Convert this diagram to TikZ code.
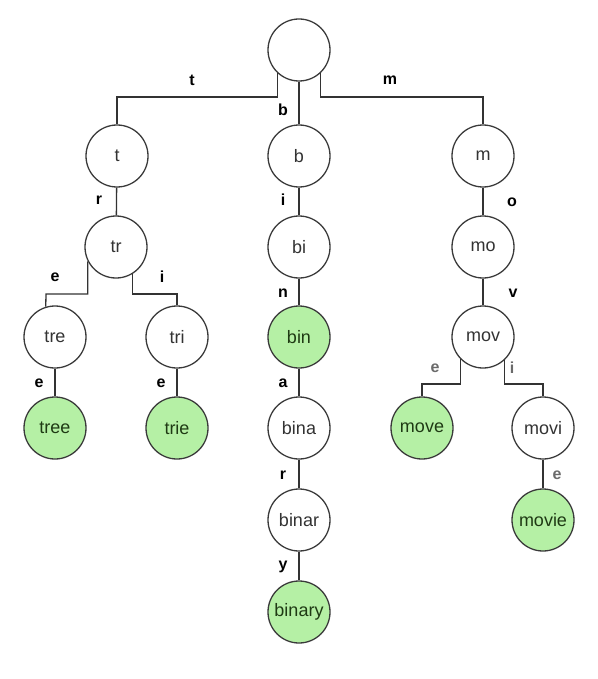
\documentclass[tikz,border=0pt]{standalone}
\usepackage{fontspec}
\setmainfont{Liberation Sans}
\definecolor{nodeline}{HTML}{3A3A3A}
\definecolor{edgeline}{HTML}{333333}
\definecolor{nodetext}{HTML}{333333}
\definecolor{wordfill}{HTML}{B5F0A5}
\definecolor{wordtext}{HTML}{1F3A14}
\definecolor{labgray}{HTML}{6A6A6A}
\begin{document}
\begin{tikzpicture}[x=1pt,y=-1pt,
  trienode/.style={circle,draw=nodeline,line width=1.3pt,minimum size=62pt,
    inner sep=0pt,fill=white,text=nodetext,font=\fontsize{18}{20}\selectfont},
  wordnode/.style={trienode,fill=wordfill,text=wordtext},
  edge/.style={draw=edgeline,line width=1.3pt},
  lab/.style={font=\bfseries\fontsize{16}{18}\selectfont,text=black,inner sep=0pt},
  lablight/.style={lab,text=labgray}]
\useasboundingbox (0,0) rectangle (597,679);

% levels where branching edges turn
\coordinate (lvlA) at (0,97);
\coordinate (lvlB) at (0,294);
\coordinate (lvlC) at (0,384);

% trie nodes
\node[trienode] (root)   at (299,50)  {};
\node[trienode] (t)      at (117,156) {t};
\node[trienode] (tr)     at (116,247) {tr};
\node[trienode] (tre)    at (55,337)  {tre};
\node[trienode] (tri)    at (177,337) {tri};
\node[wordnode] (tree)   at (55,428)  {tree};
\node[wordnode] (trie)   at (177,428) {trie};

\node[trienode] (b)      at (299,156) {b};
\node[trienode] (bi)     at (299,247) {bi};
\node[wordnode] (bin)    at (299,337) {bin};
\node[trienode] (bina)   at (299,428) {bina};
\node[trienode] (binar)  at (299,520) {binar};
\node[wordnode] (binary) at (299,612) {binary};

\node[trienode] (m)      at (483,156) {m};
\node[trienode] (mo)     at (483,247) {mo};
\node[trienode] (mov)    at (483,337) {mov};
\node[wordnode] (move)   at (422,428) {move};
\node[trienode] (movi)   at (543,428) {movi};
\node[wordnode] (movie)  at (543,520) {movie};

% edges
\draw[edge] (root.-133) |- (lvlA -| t) -- (t);
\draw[edge] (root) -- (b);
\draw[edge] (root.-47) |- (lvlA -| m) -- (m);

\draw[edge] (t) -- (tr);
\draw[edge] (tr.-153) |- (lvlB -| 46,0) -- (tre.107);
\draw[edge] (tr.-59) |- (lvlB -| tri) -- (tri);
\draw[edge] (tre) -- (tree);
\draw[edge] (tri) -- (trie);

\draw[edge] (b) -- (bi);
\draw[edge] (bi) -- (bin);
\draw[edge] (bin) -- (bina);
\draw[edge] (bina) -- (binar);
\draw[edge] (binar) -- (binary);

\draw[edge] (m) -- (mo);
\draw[edge] (mo) -- (mov);
\draw[edge] (mov.-135) |- (lvlC -| move) -- (move);
\draw[edge] (mov.-47) |- (lvlC -| movi) -- (movi);
\draw[edge] (movi) -- (movie);

% edge letters
\node[lab] (lt)  at (192,80)  {t};
\node[lab] (lb)  at (283,110) {b};
\node[lab] (lm)  at (390,80)  {m};
\node[lab] (lr)  at (99,200)  {r};
\node[lab] (le1) at (55,277)  {e};
\node[lab] (li1) at (162,277) {i};
\node[lab] (le2) at (39,383)  {e};
\node[lab] (le3) at (161,383) {e};
\node[lab] (li2) at (283,200) {i};
\node[lab] (ln)  at (283,293) {n};
\node[lab] (la)  at (283,383) {a};
\node[lab] (lr2) at (283,475) {r};
\node[lab] (ly)  at (283,567) {y};
\node[lab] (lo)  at (512,202) {o};
\node[lab] (lv)  at (513,293) {v};
\node[lablight] (le4) at (435,368) {e};
\node[lablight] (li3) at (512,368) {i};
\node[lablight] (le5) at (557,475) {e};
\end{tikzpicture}
\end{document}
